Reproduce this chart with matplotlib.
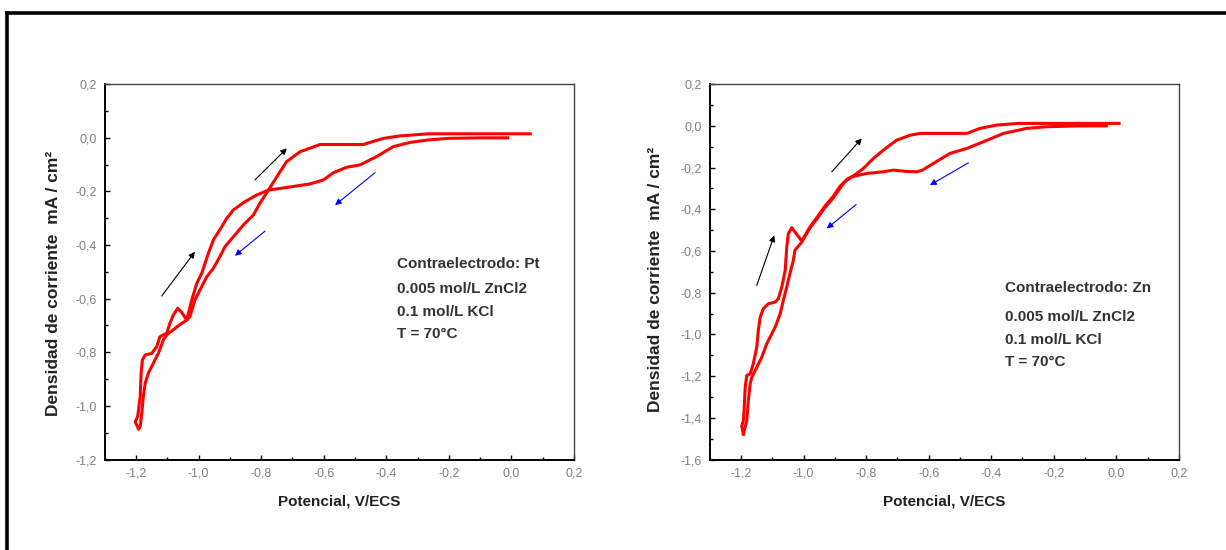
import matplotlib
matplotlib.use('Agg')
import matplotlib.pyplot as plt
from matplotlib.lines import Line2D
from matplotlib.ticker import MultipleLocator, AutoMinorLocator, FuncFormatter

plt.rcParams['font.family'] = ['Liberation Sans', 'DejaVu Sans']

# --- Pt counter electrode: cathodic sweep (0 -> -1.2 V) and anodic return
pt_cat_x = [-0.012, -0.10, -0.202, -0.266, -0.324, -0.378, -0.431, -0.484, -0.527, -0.569,
            -0.601, -0.644, -0.718, -0.777, -0.804, -0.825, -0.857, -0.889, -0.916, -0.932,
            -0.953, -0.974, -0.996, -1.012, -1.028, -1.038, -1.054, -1.076, -1.102, -1.113,
            -1.129, -1.145, -1.161, -1.171, -1.177, -1.182, -1.187, -1.192]
pt_cat_y = [0.000, 0.000, -0.002, -0.008, -0.017, -0.033, -0.070, -0.101, -0.110, -0.130,
            -0.157, -0.172, -0.185, -0.195, -0.244, -0.288, -0.325, -0.369, -0.406, -0.443,
            -0.487, -0.518, -0.568, -0.605, -0.667, -0.680, -0.692, -0.711, -0.735, -0.754,
            -0.804, -0.841, -0.878, -0.916, -0.966, -1.028, -1.078, -1.085]
pt_an_x = [-1.192, -1.203, -1.195, -1.187, -1.184, -1.180, -1.171, -1.150, -1.134, -1.124,
           -1.113, -1.102, -1.092, -1.081, -1.067, -1.055, -1.038, -1.033, -1.022, -1.006,
           -0.990, -0.969, -0.953, -0.926, -0.910, -0.889, -0.852, -0.814, -0.777, -0.750,
           -0.719, -0.676, -0.612, -0.474, -0.410, -0.356, -0.266, 0.060]
pt_an_y = [-1.085, -1.060, -1.040, -0.966, -0.878, -0.829, -0.810, -0.804, -0.779, -0.742,
           -0.735, -0.729, -0.692, -0.661, -0.636, -0.650, -0.680, -0.655, -0.605, -0.543,
           -0.505, -0.431, -0.381, -0.331, -0.300, -0.269, -0.238, -0.213, -0.195, -0.145,
           -0.089, -0.052, -0.025, -0.025, -0.002, 0.007, 0.015, 0.015]

# --- Zn counter electrode
zn_cat_x = [-0.032, -0.12, -0.223, -0.287, -0.361, -0.425, -0.478, -0.532, -0.585, -0.620,
            -0.638, -0.675, -0.713, -0.745, -0.798, -0.846, -0.870, -0.884, -0.905, -0.932,
            -0.958, -0.980, -1.006, -1.028, -1.033, -1.044, -1.054, -1.065, -1.075, -1.091,
            -1.102, -1.118, -1.134, -1.150, -1.166, -1.171, -1.177, -1.182, -1.193]
zn_cat_y = [0.000, 0.000, -0.004, -0.012, -0.036, -0.076, -0.108, -0.132, -0.180, -0.212,
            -0.220, -0.218, -0.212, -0.220, -0.228, -0.244, -0.270, -0.300, -0.345, -0.392,
            -0.447, -0.490, -0.557, -0.597, -0.645, -0.709, -0.773, -0.837, -0.901, -0.965,
            -0.997, -1.045, -1.109, -1.158, -1.206, -1.237, -1.318, -1.414, -1.478]
zn_an_x = [-1.193, -1.198, -1.193, -1.190, -1.187, -1.182, -1.171, -1.161, -1.150, -1.145,
           -1.139, -1.129, -1.113, -1.091, -1.081, -1.070, -1.059, -1.054, -1.049, -1.038,
           -1.006, -0.980, -0.958, -0.932, -0.905, -0.884, -0.860, -0.841, -0.809, -0.777,
           -0.745, -0.702, -0.660, -0.628, -0.478, -0.436, -0.382, -0.313, 0.009]
zn_an_y = [-1.478, -1.440, -1.414, -1.350, -1.254, -1.197, -1.189, -1.141, -1.061, -0.981,
           -0.917, -0.877, -0.853, -0.845, -0.829, -0.773, -0.693, -0.581, -0.517, -0.488,
           -0.552, -0.485, -0.440, -0.385, -0.337, -0.290, -0.255, -0.240, -0.204, -0.156,
           -0.116, -0.068, -0.045, -0.036, -0.036, -0.012, 0.004, 0.012, 0.012]

# sweep-direction arrows: (tail, head)
pt_black_arrows = [((-0.820, -0.157), (-0.718, -0.039)), ((-1.118, -0.590), (-1.012, -0.425))]
pt_blue_arrows = [((-0.436, -0.130), (-0.564, -0.251)), ((-0.788, -0.348), (-0.884, -0.440))]
zn_black_arrows = [((-0.910, -0.220), (-0.814, -0.060)), ((-1.150, -0.765), (-1.094, -0.525))]
zn_blue_arrows = [((-0.473, -0.177), (-0.596, -0.284)), ((-0.832, -0.377), (-0.926, -0.492))]

pt_notes = ['Contraelectrodo: Pt', '0.005 mol/L ZnCl2', '0.1 mol/L KCl', 'T = 70°C']
zn_notes = ['Contraelectrodo: Zn', '0.005 mol/L ZnCl2', '0.1 mol/L KCl', 'T = 70°C']


def comma_fmt(v, pos):
    s = '%.1f' % v
    if s == '-0.0':
        s = '0.0'
    return s.replace('.', ',')


def setup_axes(ax, ymin):
    ax.set_xlim(-1.3, 0.2)
    ax.set_ylim(ymin, 0.2)
    ax.xaxis.set_major_locator(MultipleLocator(0.2))
    ax.yaxis.set_major_locator(MultipleLocator(0.2))
    ax.xaxis.set_minor_locator(AutoMinorLocator(2))
    ax.yaxis.set_minor_locator(AutoMinorLocator(2))
    ax.xaxis.set_major_formatter(FuncFormatter(comma_fmt))
    ax.yaxis.set_major_formatter(FuncFormatter(comma_fmt))
    ax.tick_params(which='both', direction='in', top=False, right=False,
                   width=1.0, labelsize=9, labelcolor='#808080')
    ax.tick_params(which='major', length=3.8, pad=6)
    ax.tick_params(which='minor', length=2.2)
    for side in ['left', 'bottom']:
        ax.spines[side].set_linewidth(1.4)
        ax.spines[side].set_color('black')
    for side in ['top', 'right']:
        ax.spines[side].set_linewidth(1.0)
        ax.spines[side].set_color('#444444')
    ax.set_xlabel('Potencial, V/ECS', fontsize=11, fontweight='bold',
                  color='#222222', va='center')
    ax.set_ylabel('Densidad de corriente  mA / cm²', fontsize=12.5, fontweight='bold',
                  color='#222222', va='center')
    ax.xaxis.set_label_coords(0.5, -0.113)


def draw_arrows(ax, arrows, color):
    for tail, head in arrows:
        ax.annotate('', xy=head, xytext=tail,
                    arrowprops=dict(arrowstyle='-|>', color=color, lw=0.8,
                                    mutation_scale=9, shrinkA=0, shrinkB=0))


fig = plt.figure(figsize=(12.26, 5.5), dpi=100)
fig.patch.set_facecolor('white')

# outer frame (top and left edges visible)
fig.add_artist(Line2D([7 / 1226, 1.01], [1 - 12.6 / 550, 1 - 12.6 / 550],
                      transform=fig.transFigure, color='black', lw=2.6))
fig.add_artist(Line2D([7 / 1226, 7 / 1226], [1 - 12.6 / 550, -0.01],
                      transform=fig.transFigure, color='black', lw=2.6))

ax1 = fig.add_axes([0.0855, 0.1645, 0.3827, 0.6824])
ax2 = fig.add_axes([0.5790, 0.1645, 0.3825, 0.6824])

setup_axes(ax1, -1.2)
setup_axes(ax2, -1.6)
ax1.yaxis.set_label_coords(-0.110, 0.47)
ax2.yaxis.set_label_coords(-0.115, 0.48)

ax1.plot(pt_cat_x, pt_cat_y, color='#ff0000', lw=2.2)
ax1.plot(pt_an_x, pt_an_y, color='#ff0000', lw=2.2)
ax2.plot(zn_cat_x, zn_cat_y, color='#ff0000', lw=2.2)
ax2.plot(zn_an_x, zn_an_y, color='#ff0000', lw=2.2)

draw_arrows(ax1, pt_black_arrows, 'black')
draw_arrows(ax1, pt_blue_arrows, '#0000ff')
draw_arrows(ax2, zn_black_arrows, 'black')
draw_arrows(ax2, zn_blue_arrows, '#0000ff')

for txt, yy in zip(pt_notes, [0.521, 0.454, 0.393, 0.334]):
    ax1.text(0.623, yy, txt, transform=ax1.transAxes, fontsize=11, fontweight='bold',
             color='#333333', va='center', ha='left')
for txt, yy in zip(zn_notes, [0.457, 0.380, 0.318, 0.259]):
    ax2.text(0.629, yy, txt, transform=ax2.transAxes, fontsize=11, fontweight='bold',
             color='#333333', va='center', ha='left')

plt.savefig('out.png', dpi=100)
plt.close(fig)
